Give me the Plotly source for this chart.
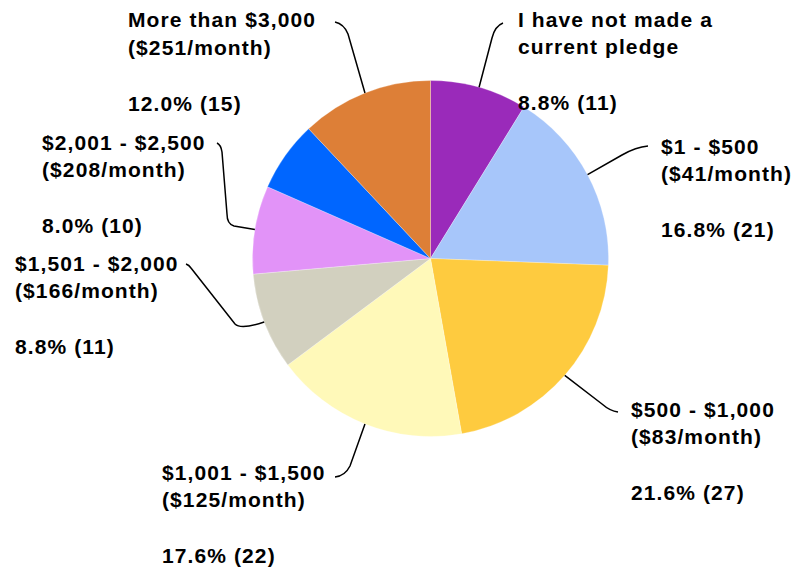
import math
import plotly.graph_objects as go

# Pledge brackets, clockwise from 12 o'clock
categories = [
    "I have not made a current pledge",
    "$1 - $500",
    "$500 - $1,000",
    "$1,001 - $1,500",
    "$1,501 - $2,000",
    "$2,001 - $2,500",
    "$2,501 - $3,000",
    "More than $3,000",
]
name_lines = [
    ["I have not made a", "current pledge"],
    ["$1 - $500", "($41/month)"],
    ["$500 - $1,000", "($83/month)"],
    ["$1,001 - $1,500", "($125/month)"],
    ["$1,501 - $2,000", "($166/month)"],
    ["$2,001 - $2,500", "($208/month)"],
    None,
    ["More than $3,000", "($251/month)"],
]
counts = [11, 21, 27, 22, 11, 10, 8, 15]
colors = ["#9A2ABA", "#A7C6FA", "#FECB3F", "#FFF9B9",
          "#D2D0BF", "#E293F8", "#0066FF", "#DD7F37"]

W, H = 801, 576
CX, CY, R = 430.5, 258.5, 178.0

# label block: left edge and first-line centre (px), leader path after the anchor
label_layout = {
    0: (518, 19, "L 492 38 Q 495 26 503 23"),
    1: (661, 146, "L 622 155 Q 636 147 648 146"),
    2: (631, 409, "L 602 404 Q 610 411 618 412"),
    3: (162, 472, "L 350 466 Q 345 476 335 477"),
    4: (15, 263, "Q 241 330 235 324 L 191 268 Q 189 265 186 264"),
    5: (42, 142, "L 234 226 Q 227 224 227 214 L 222 152 Q 221 145 217 143"),
    7: (128, 20, "L 348 34 Q 344 24 335 22"),
}
LINE_GAP = 27.7
TEXT_PAD = 2.5  # annotation box padding on the left


def px(x, y):
    return x / W, 1 - y / H


def to_paper_path(d):
    toks = d.split()
    out = []
    i = 0
    while i < len(toks):
        t = toks[i]
        if t.isalpha():
            out.append(t)
            i += 1
        else:
            x, y = px(float(toks[i]), float(toks[i + 1]))
            out.append(f"{x:.5f},{y:.5f}")
            i += 2
    return " ".join(out)


fig = go.Figure(go.Pie(
    labels=categories,
    values=counts,
    sort=False,
    direction="clockwise",
    rotation=0,
    marker=dict(colors=colors, line=dict(color="rgba(255,255,255,0.5)", width=0.5)),
    textinfo="none",
    hoverinfo="label+value+percent",
    showlegend=False,
    domain=dict(x=[(CX - R) / W, (CX + R) / W],
                y=[1 - (CY + R) / H, 1 - (CY - R) / H]),
))

total = sum(counts)
font = dict(family="Liberation Sans, Arial, sans-serif", size=21, color="#000000", weight="bold")
annotations = []
shapes = []
cum = 0
for i, c in enumerate(counts):
    mid = (cum + c / 2) / total * 2 * math.pi
    cum += c
    if i not in label_layout:
        continue
    lx, ly, tail = label_layout[i]
    pct = f"{100 * c / total:.1f}% ({c})"
    lines = name_lines[i] + [None, pct]
    for k, line in enumerate(lines):
        if line is None:
            continue
        x, y = px(lx - TEXT_PAD, ly + k * LINE_GAP)
        annotations.append(dict(
            x=x, y=y, xref="paper", yref="paper", xanchor="left", yanchor="middle",
            text=f'<span style="letter-spacing:1.1px">{line}</span>',
            showarrow=False, font=font,
        ))
    ax = CX + R * math.sin(mid)
    ay = CY - R * math.cos(mid)
    path = to_paper_path(f"M {ax:.2f} {ay:.2f} " + tail)
    shapes.append(dict(type="path", xref="paper", yref="paper", path=path,
                       line=dict(color="#000000", width=1.5)))

fig.update_layout(
    width=W, height=H,
    margin=dict(l=0, r=0, t=0, b=0),
    paper_bgcolor="#FFFFFF",
    plot_bgcolor="#FFFFFF",
    annotations=annotations,
    shapes=shapes,
)

fig.write_html("out.html")
